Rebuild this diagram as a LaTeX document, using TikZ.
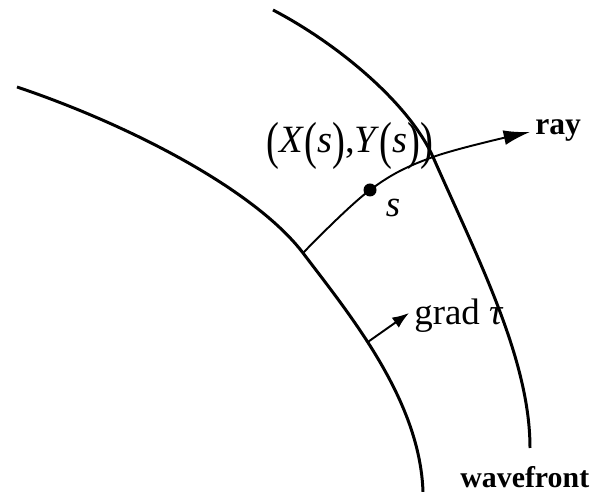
\documentclass[tikz,border=0pt]{standalone}
\usepackage{fontspec}
\setmainfont{Liberation Serif}
\usepackage{graphicx}
\usetikzlibrary{arrows.meta}
\newcommand{\tallparen}[1]{\raisebox{-0.14em}{\scalebox{1}[1.35]{#1}}}

\begin{document}
\begin{tikzpicture}[x=0.02cm, y=-0.02cm,
  front/.style={line width=1.7pt},
  raypath/.style={line width=1.1pt},
  lbl/.style={inner sep=0pt, anchor=base}]
  \useasboundingbox (0,0) rectangle (598,492);

  \coordinate (rayfoot) at (303,253);
  \coordinate (gradfoot) at (367.7,342.1);
  \coordinate (raycross) at (433,157);
  \coordinate (raytip) at (530,132);
  \coordinate (gradtip) at (409,313);

  \draw[front] (17,87) .. controls (130,125) and (255,190) .. (rayfoot)
    .. controls (350,315) and (420,400) .. (423,492);
  \draw[front] (273,10) .. controls (340,45) and (410,105) .. (raycross)
    .. controls (479,261) and (530,360) .. (530,448);

  \node[circle, fill, inner sep=0pt, minimum size=7.4pt] (sdot) at (370,190) {};
  \draw[raypath, -{Latex[length=15pt, width=8.5pt]}]
    plot[smooth, tension=0.6] coordinates {(rayfoot) (sdot) (raycross) (raytip)};
  \draw[raypath, -{Latex[length=9.5pt, width=7pt]}] (gradfoot) -- (gradtip);

  \node[lbl, font=\fontsize{22}{26}\selectfont] (pos) at (350,153)
    {\tallparen{(}\textit{X}\tallparen{(}\textit{s}\tallparen{)},\textit{Y}\tallparen{(}\textit{s}\tallparen{)}\tallparen{)}};
  \node[lbl, font=\fontsize{21}{25}\selectfont] (slabel) at (393,217) {\textit{s}};
  \node[lbl, anchor=base west, font=\fontsize{21}{25}\selectfont] (grad) at (414,325) {grad \textit{τ}};
  \node[lbl, anchor=base west, font=\bfseries\fontsize{18}{22}\selectfont] (raylabel) at (535,135) {ray};
  \node[lbl, anchor=base west, font=\bfseries\fontsize{17}{21}\selectfont] (front) at (460,488) {wavefront};
\end{tikzpicture}
\end{document}
